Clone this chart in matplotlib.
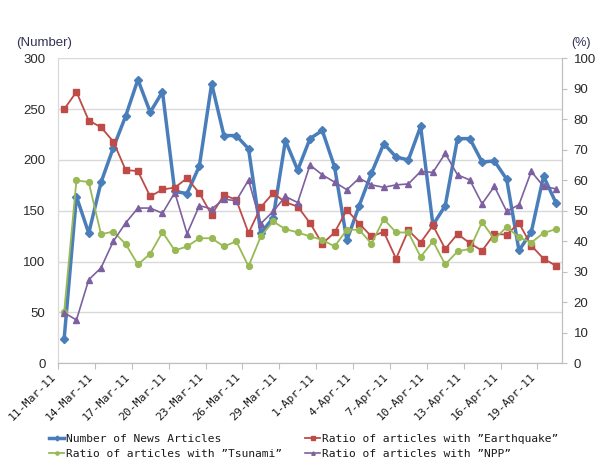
import numpy as np
import pandas as pd
import matplotlib
matplotlib.use("Agg")
import matplotlib.pyplot as plt
import matplotlib.dates as mdates
from matplotlib.ticker import FuncFormatter, MultipleLocator

# daily values, 11-Mar-11 .. 20-Apr-11
dates = pd.date_range("2011-03-11", "2011-04-20", freq="D")

news_articles = [24, 164, 128, 178, 212, 243, 279, 247, 267, 169,
                 167, 194, 275, 224, 224, 211, 128, 143, 219, 190,
                 221, 229, 193, 121, 155, 187, 216, 203, 200, 233,
                 136, 155, 221, 221, 198, 199, 181, 111, 129, 184, 158]

earthquake_pct = [83.3, 89.0, 79.6, 77.4, 72.7, 63.4, 63.0, 54.7, 57.0, 57.6,
                  60.7, 55.8, 48.7, 55.2, 53.6, 42.7, 51.2, 55.8, 52.8, 51.4,
                  46.0, 39.2, 42.9, 50.3, 45.8, 41.6, 43.1, 34.3, 43.6, 39.6,
                  45.2, 37.5, 42.4, 39.4, 36.9, 42.4, 42.2, 46.0, 38.6, 34.3, 32.0]

tsunami_pct = [16.8, 60.0, 59.4, 42.3, 43.2, 39.1, 32.4, 35.9, 43.0, 37.0,
               38.3, 41.0, 41.0, 38.3, 40.0, 31.8, 41.6, 46.5, 44.0, 42.9,
               41.6, 40.5, 38.3, 43.8, 43.8, 39.2, 47.3, 42.9, 42.9, 34.9,
               40.0, 32.4, 36.7, 37.5, 46.3, 40.7, 44.7, 41.3, 39.6, 42.7, 44.0]

npp_pct = [16.6, 14.2, 27.4, 31.3, 40.0, 46.0, 50.9, 50.9, 49.2, 56.0,
           42.5, 51.7, 50.6, 53.8, 53.3, 60.1, 45.8, 49.8, 54.7, 52.7,
           65.0, 61.8, 59.4, 56.9, 60.7, 58.5, 57.7, 58.5, 58.8, 62.9,
           62.6, 68.8, 61.8, 60.1, 52.3, 58.0, 49.8, 52.0, 62.9, 58.0, 57.2]

series_labels = ["Number of News Articles",
                 "Ratio of articles with \u201dEarthquake\u201d",
                 "Ratio of articles with \u201dTsunami\u201d",
                 "Ratio of articles with \u201dNPP\u201d"]

# points sit in the middle of each day slot (Excel date axis style)
x = dates + pd.Timedelta(hours=12)

grey_txt = "#2a2a2a"
axis_grey = "#BFBFBF"

fig = plt.figure(figsize=(6.02, 4.65), dpi=100)
ax = fig.add_axes([58 / 602, 1 - 363.3 / 465, (562 - 58) / 602, (363.3 - 58.3) / 465])
ax2 = ax.twinx()

l_news, = ax.plot(x, news_articles, color="#4A7EBB", lw=2.5, marker="D", ms=4.5,
                  label=series_labels[0])
l_eq, = ax2.plot(x, earthquake_pct, color="#BE4B48", lw=1.3, marker="s", ms=4.2,
                 label=series_labels[1])
l_ts, = ax2.plot(x, tsunami_pct, color="#98B954", lw=1.3, marker="o", ms=4.2,
                 label=series_labels[2])
l_npp, = ax2.plot(x, npp_pct, color="#7D60A0", lw=1.2, marker="^", ms=4.5,
                  label=series_labels[3])

ax.set_ylim(0, 300)
ax2.set_ylim(0, 100)
ax.yaxis.set_major_locator(MultipleLocator(50))
ax2.yaxis.set_major_locator(MultipleLocator(10))
ax.set_xlim(dates[0], dates[-1] + pd.Timedelta(days=1))
ax.set_xticks(dates[::3])
ax.xaxis.set_major_formatter(FuncFormatter(
    lambda v, pos: "{}-{}".format(mdates.num2date(v).day, mdates.num2date(v).strftime("%b-%y"))))

ax.grid(axis="y", color="#D9D9D9", lw=1)
ax.set_axisbelow(True)

for a in (ax, ax2):
    a.spines["top"].set_visible(False)
    a.spines["left"].set_color("#D9D9D9")
    a.spines["right"].set_color(axis_grey)
    a.spines["bottom"].set_color(axis_grey)

ax.tick_params(axis="y", length=0, pad=9, labelsize=9.5, labelcolor=grey_txt)
ax2.tick_params(axis="y", length=3.5, color=axis_grey, pad=5, labelsize=9.5, labelcolor=grey_txt)
ax.tick_params(axis="x", length=4, color=axis_grey, pad=2, labelsize=8.2, labelcolor="#1a1a1a")
for lab in ax.get_xticklabels():
    lab.set_rotation(45)
    lab.set_ha("right")
    lab.set_family("DejaVu Sans Mono")
for lab in ax.get_yticklabels() + ax2.get_yticklabels():
    lab.set_family("Liberation Sans")

fig.text(16 / 602, 1 - 43 / 465, "(Number)", fontsize=9.5, color="#333355",
         family="Liberation Sans", va="center", ha="left")
fig.text(571 / 602, 1 - 43 / 465, "(%)", fontsize=9, color="#333355",
         family="Liberation Sans", va="center", ha="left")

leg = fig.legend([l_news, l_ts, l_eq, l_npp],
                 [series_labels[0], series_labels[2], series_labels[1], series_labels[3]],
                 ncol=2, loc="upper left", bbox_to_anchor=(49 / 602, 1 - 434 / 465),
                 frameon=False, prop={"family": "DejaVu Sans Mono", "size": 8.1},
                 handlelength=1.35, handletextpad=0.2, columnspacing=2.0,
                 labelspacing=0.45, borderpad=0, borderaxespad=0, markerscale=0.55)
for t in leg.get_texts():
    t.set_color("#1a1a1a")

fig.savefig("out.png", dpi=100)
